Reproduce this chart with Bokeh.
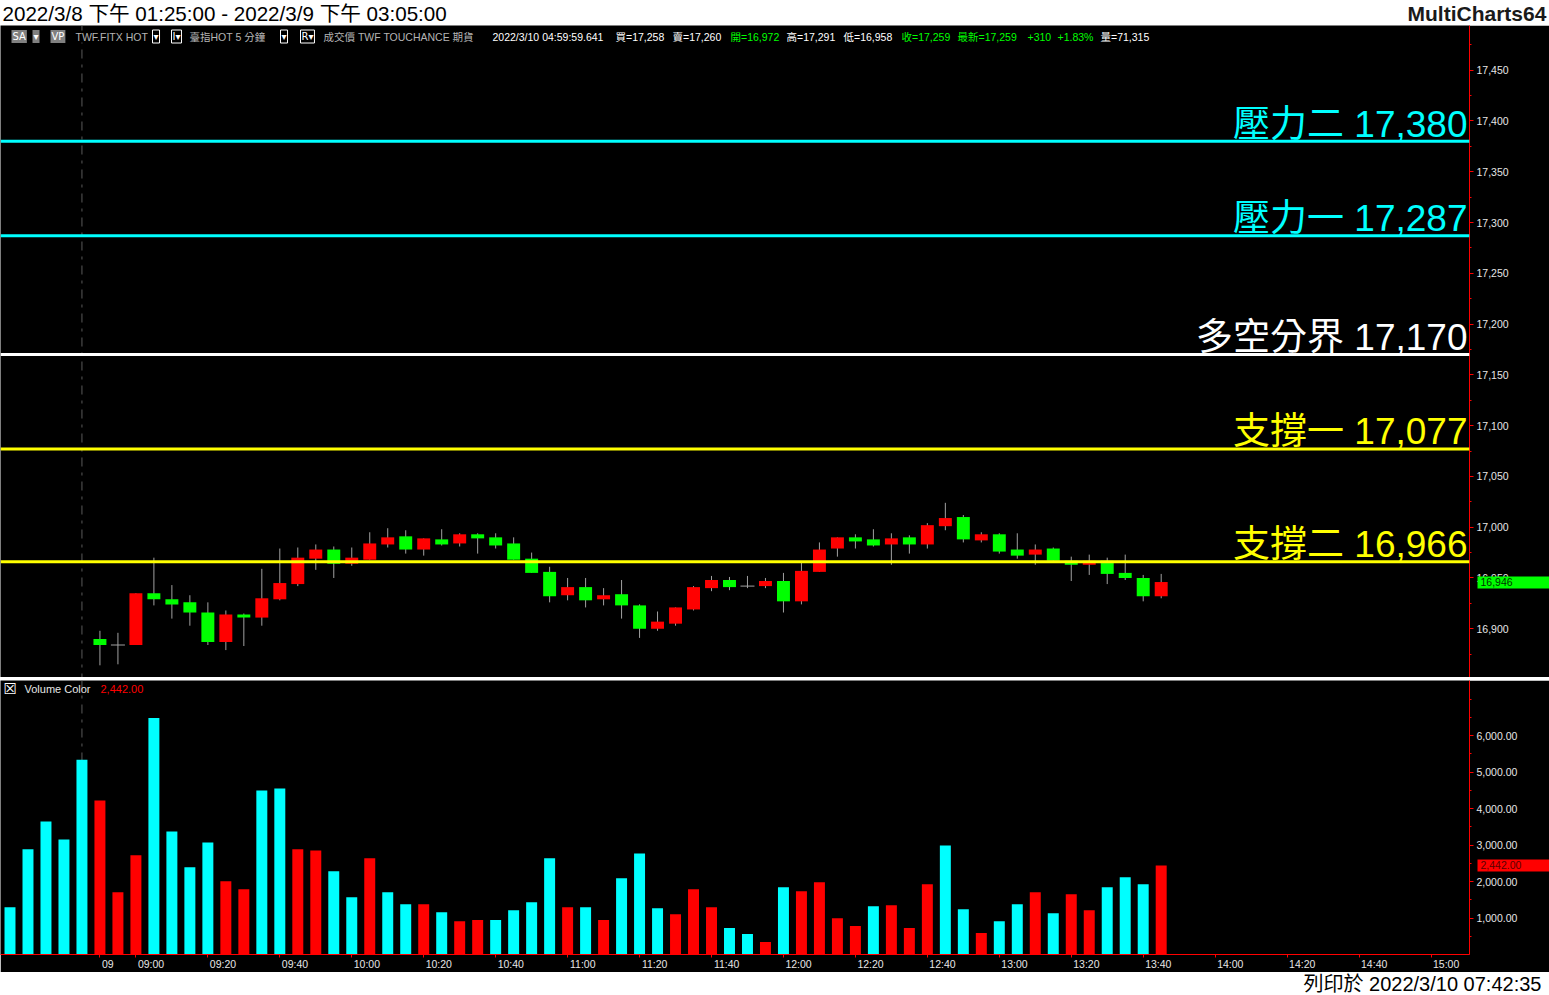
from bokeh.plotting import figure
from bokeh.layouts import column
from bokeh.models import (ColumnDataSource, Span, Label, Range1d, FixedTicker, LinearAxis,
                          SingleIntervalTicker, NumeralTickFormatter)
from bokeh.embed import file_html
from bokeh.resources import INLINE
from bokeh.core.properties import value

# ------------------------------------------------------------------ data
title_text = "2022/3/8 下午 01:25:00 - 2022/3/9 下午 03:05:00"
brand_text = "MultiCharts64"
print_text = "列印於 2022/3/10 07:42:35"

header_texts = ["TWF.FITX HOT", "臺指HOT  5 分鐘", "成交價  TWF  TOUCHANCE  期貨",
                "2022/3/10  04:59:59.641", "買=17,258", "賣=17,260", "開=16,972",
                "高=17,291", "低=16,958", "收=17,259", "最新=17,259", "+310",
                "+1.83%", "量=71,315"]
header_kinds = ["gray", "gray", "gray", "white", "white", "white", "green",
                "white", "white", "green", "green", "green", "green", "white"]

# candles (5-minute bars, bar index 5 = 08:50 of 3/9)
candle_bar = list(range(5, 65))
open_ = [16890, 16884, 16884, 16935, 16929, 16926, 16916, 16887, 16914, 16911,
         16929, 16944, 16969, 16978, 16964, 16968, 16983, 16991, 16978, 16988,
         16984, 16993, 16990, 16984, 16969, 16956, 16933, 16941, 16929, 16934,
         16923, 16900, 16905, 16919, 16940, 16948, 16942, 16942, 16947, 16927,
         16956, 16979, 16990, 16988, 16983, 16990, 16983, 17001, 17010, 16987,
         16993, 16978, 16973, 16979, 16967, 16963, 16967, 16955, 16950, 16932]
high = [16898, 16896, 16935, 16970, 16943, 16933, 16926, 16918, 16915, 16959,
        16979, 16980, 16983, 16981, 16980, 16995, 16999, 16997, 16989, 16998,
        16994, 16994, 16994, 16990, 16975, 16961, 16950, 16950, 16940, 16948,
        16924, 16917, 16921, 16942, 16952, 16951, 16952, 16950, 16955, 16966,
        16985, 16990, 16993, 16998, 16994, 16992, 17004, 17024, 17012, 16995,
        16994, 16994, 16983, 16980, 16971, 16973, 16970, 16973, 16953, 16954]
low = [16864, 16865, 16884, 16923, 16910, 16903, 16884, 16879, 16883, 16903,
       16928, 16942, 16958, 16950, 16962, 16968, 16980, 16974, 16972, 16982,
       16981, 16974, 16979, 16968, 16955, 16926, 16928, 16921, 16923, 16910,
       16891, 16898, 16903, 16918, 16937, 16938, 16940, 16940, 16916, 16924,
       16956, 16971, 16979, 16981, 16963, 16974, 16979, 16997, 16985, 16985,
       16974, 16969, 16963, 16967, 16947, 16953, 16944, 16948, 16927, 16930]
close = [16884, 16884, 16935, 16929, 16924, 16916, 16887, 16914, 16911, 16930,
         16945, 16970, 16978, 16964, 16970, 16984, 16990, 16978, 16989, 16983,
         16993, 16989, 16982, 16968, 16955, 16932, 16941, 16928, 16933, 16923,
         16900, 16907, 16921, 16941, 16948, 16941, 16942, 16947, 16927, 16957,
         16978, 16990, 16986, 16982, 16989, 16983, 17002, 17009, 16988, 16993,
         16976, 16972, 16978, 16967, 16963, 16967, 16954, 16950, 16932, 16946]

# volume (bar index 0..64; 0-4 = 13:25-13:45 of 3/8)
volume_bar = list(range(65))
volume = [1298, 2883, 3648, 3156, 5342, 4221, 1708, 2719, 6489, 3374,
          2391, 3074, 2008, 1790, 4495, 4549, 2883, 2855, 2281, 1571,
          2637, 1708, 1380, 1380, 1161, 915, 943, 943, 1216, 1434,
          2637, 1298, 1298, 943, 2090, 2773, 1270, 1107, 1790, 1298,
          724, 560, 342, 1844, 1735, 1981, 997, 779, 1325, 1352,
          724, 1926, 2992, 1243, 587, 915, 1380, 1708, 1134, 1653,
          1216, 1844, 2117, 1926, 2442]
volume_up = [0, 0, 0, 0, 0, 1, 1, 1, 0, 0,
             0, 0, 1, 1, 0, 0, 1, 1, 0, 0,
             1, 0, 0, 1, 0, 1, 1, 0, 0, 0,
             0, 1, 0, 1, 0, 0, 0, 1, 1, 1,
             0, 0, 1, 0, 1, 1, 1, 1, 0, 1,
             1, 1, 0, 0, 1, 0, 0, 1, 0, 1,
             1, 0, 0, 0, 1]

level_names = ["壓力二", "壓力一", "多空分界", "支撐一", "支撐二"]
level_values = [17380, 17287, 17170, 17077, 16966]
level_colors = ["#00ffff", "#00ffff", "#ffffff", "#ffff00", "#ffff00"]

time_tick_bars = [5, 7, 11, 15, 19, 23, 27, 31, 35, 39, 43, 47, 51, 55, 59,
                  63, 67, 71, 75, 79]
time_tick_labels = ["09", "09:00", "09:20", "09:40", "10:00", "10:20", "10:40",
                    "11:00", "11:20", "11:40", "12:00", "12:20", "12:40", "13:00",
                    "13:20", "13:40", "14:00", "14:20", "14:40", "15:00"]
session_break_bar = 4
volume_axis_ticks = [1000, 2000, 3000, 4000, 5000, 6000]

# ------------------------------------------------------------------ style
W = 1549
FW = 1470
RB = W - FW
FONT = "Liberation Sans, Noto Sans CJK TC"
AXIS_TXT = "#e6e6e6"
UP = "#ff0000"
DOWN = "#00ff00"
WICK = "#a0a0a0"
x_range = Range1d(-0.528, 81.14)
px_per_bar = FW / (x_range.end - x_range.start)
TICK_FS = 10.5
Y_TICK_OUT = 4
Y_STANDOFF = 3


def text_w(t, fs):
    # rough Arial-metric width estimate (digits .556em, punctuation .278em)
    return sum(0.556 if ch.isdigit() else 0.278 for ch in t) * fs


def strip(h, fill):
    f = figure(width=W, height=h, toolbar_location=None, output_backend="svg",
               x_axis_location=None, y_axis_location=None,
               min_border_left=0, min_border_top=0, min_border_bottom=0,
               min_border_right=RB, x_range=Range1d(0, 1), y_range=Range1d(0, 1))
    f.grid.visible = False
    f.outline_line_color = None
    f.background_fill_color = fill
    f.border_fill_color = fill
    return f


def right_text_axis(f, text, start_px, font, size, style="normal", color="#000000"):
    # side axis whose single label carries a right-hand text of the strip
    ax = LinearAxis(ticker=FixedTicker(ticks=[0.5], minor_ticks=[]),
                    axis_line_color=None, major_tick_line_color=None,
                    minor_tick_line_color=None, major_tick_out=0, major_tick_in=0,
                    major_label_standoff=start_px - FW,
                    major_label_overrides={0.5: text},
                    major_label_text_font=font, major_label_text_font_size=size,
                    major_label_text_font_style=style, major_label_text_color=color)
    f.add_layout(ax, "right")


def style_value_axis(ax):
    ax.axis_line_color = "#ff0000"
    ax.major_tick_line_color = "#ff0000"
    ax.minor_tick_line_color = "#ff0000"
    ax.major_tick_out = Y_TICK_OUT
    ax.major_tick_in = 0
    ax.minor_tick_out = 2
    ax.minor_tick_in = 0
    ax.major_label_standoff = Y_STANDOFF
    ax.major_label_text_color = AXIS_TXT
    ax.major_label_text_font = "Liberation Sans"
    ax.major_label_text_font_size = f"{TICK_FS}px"


def marker_axis(f, val, fmt, widest_label, fill, txt):
    # second side axis (outside the value axis); its tick is drawn back over the
    # value-axis area to form the last-value tag
    axis_px = FW + round(Y_TICK_OUT + Y_STANDOFF + text_w(widest_label, TICK_FS))
    ax = LinearAxis(ticker=FixedTicker(ticks=[val], minor_ticks=[]),
                    formatter=NumeralTickFormatter(format=fmt),
                    axis_line_color=None, minor_tick_line_color=None,
                    major_tick_line_color=fill, major_tick_line_width=12,
                    major_tick_out=W - axis_px, major_tick_in=axis_px - (FW + 5),
                    major_label_standoff=(FW + 8) - W,
                    major_label_text_color=txt, major_label_text_font="Liberation Sans",
                    major_label_text_font_size=f"{TICK_FS}px")
    f.add_layout(ax, "right")


# ---- top strip
top = strip(25, "white")
top.add_layout(Label(x=2, y=12, x_units="screen", y_units="screen", text=title_text,
                     text_font=FONT, text_font_size="20.6px", text_color="#000000",
                     text_baseline="middle"))
right_text_axis(top, brand_text, 1408, "Liberation Sans", "21px", "bold", "#1a1a1a")

# ---- price panel
PH = 652
price = figure(width=W, height=PH, toolbar_location=None, output_backend="svg",
               x_range=x_range, y_range=Range1d(16852, 17494),
               x_axis_location=None, y_axis_location="right",
               min_border_left=0, min_border_top=0, min_border_bottom=0,
               min_border_right=RB)
price.grid.visible = False
price.background_fill_color = "black"
price.border_fill_color = "black"
price.outline_line_color = None
ya = price.yaxis[0]
ya.ticker = SingleIntervalTicker(interval=50, num_minor_ticks=2)
ya.formatter = NumeralTickFormatter(format="0,0")
style_value_axis(ya)

price.add_layout(Span(location=session_break_bar, dimension="height",
                      line_color="#5a5a5a", line_width=1, line_dash="9 6 3 6",
                      level="underlay"))

for v, c in zip(level_values, level_colors):
    price.add_layout(Span(location=v, dimension="width", line_color=c, line_width=3))

lvl_src = ColumnDataSource(dict(
    x=[x_range.end] * len(level_values), y=level_values,
    t=[f"{n} {v:,}" for n, v in zip(level_names, level_values)], c=level_colors))
price.text(x="x", y="y", text="t", text_color="c", source=lvl_src,
           text_align="right", text_baseline="alphabetic", x_offset=-2, y_offset=-17,
           text_font=value(FONT), text_font_size="37px")

body_x, body_top, body_bot, body_col, doji_x, doji_y = [], [], [], [], [], []
for x, o, c in zip(candle_bar, open_, close):
    if c == o:
        doji_x.append(x)
        doji_y.append(c)
    else:
        body_x.append(x)
        body_top.append(max(o, c))
        body_bot.append(min(o, c))
        body_col.append(UP if c > o else DOWN)

price.segment(x0=candle_bar, y0=low, x1=candle_bar, y1=high, line_color=WICK, line_width=1)
price.vbar(x=body_x, top=body_top, bottom=body_bot, width=0.72, fill_color=body_col,
           line_color=None)
price.scatter(x=doji_x, y=doji_y, marker="dash", size=14, line_color=WICK, line_width=1)

# header line
hdr_y = PH - 11
box_specs = [("SA", 11, "#808080", None), ("▾", 32, "#808080", None), ("VP", 50, "#808080", None),
             ("▾", 152, None, "#ffffff"), ("I▾", 171, None, "#ffffff"),
             ("▾", 280, None, "#ffffff"), ("R▾", 300, None, "#ffffff")]
for t, x, bg, bd in box_specs:
    price.add_layout(Label(x=x, y=hdr_y, x_units="screen", y_units="screen", text=t,
                           text_font="DejaVu Sans", text_font_size="10px",
                           text_color="#ffffff", text_baseline="middle",
                           background_fill_color=bg, border_line_color=bd,
                           padding=1))
hdr_x = [75, 189, 323, 492, 615, 672, 730, 786, 843, 901, 957, 1027, 1057, 1100]
kind_color = {"gray": "#b4b4b4", "white": "#ffffff", "green": "#00ff00"}
for t, k, x in zip(header_texts, header_kinds, hdr_x):
    price.add_layout(Label(x=x, y=hdr_y, x_units="screen", y_units="screen", text=t,
                           text_font=FONT, text_font_size="10.5px",
                           text_color=kind_color[k], text_baseline="middle",
                           background_fill_color="black"))

marker_axis(price, close[-1], "0,0", "17,450", DOWN, "#003300")

# ---- separator
sep = strip(3, "#d8d8d8")

# ---- volume panel
VH = 275
vol = figure(width=W, height=VH + 17, toolbar_location=None, output_backend="svg",
             x_range=x_range, y_range=Range1d(0, 7514),
             x_axis_location=None, y_axis_location="right",
             min_border_left=0, min_border_top=0, min_border_bottom=17,
             min_border_right=RB)
vol.grid.visible = False
vol.background_fill_color = "black"
vol.border_fill_color = "black"
vol.outline_line_color = None
vy = vol.yaxis[0]
vy.ticker = FixedTicker(ticks=volume_axis_ticks,
                        minor_ticks=[t - 500 for t in volume_axis_ticks] + [6500, 7000])
vy.formatter = NumeralTickFormatter(format="0,0.00")
style_value_axis(vy)

# time axis: tick marks on the baseline ...
tx = LinearAxis(ticker=FixedTicker(ticks=time_tick_bars, minor_ticks=[]),
                axis_line_color="#ff0000", major_tick_line_color="#ff0000",
                minor_tick_line_color=None, major_tick_out=3, major_tick_in=0,
                major_label_standoff=0,
                major_label_overrides={t: "" for t in time_tick_bars},
                major_label_text_font_size="1px")
vol.add_layout(tx, "below")


# ... and labels that start just right of each tick
def label_shift(t):
    return round((2 + text_w(t, TICK_FS) / 2) / px_per_bar, 3)


lab_pos = [b + label_shift(t) for b, t in zip(time_tick_bars, time_tick_labels)]
lx = LinearAxis(ticker=FixedTicker(ticks=lab_pos, minor_ticks=[]),
                axis_line_color=None, major_tick_line_color=None,
                minor_tick_line_color=None, major_tick_out=0, major_tick_in=0,
                major_label_standoff=0,
                major_label_overrides={p_: t for p_, t in zip(lab_pos, time_tick_labels)},
                major_label_text_color=AXIS_TXT, major_label_text_font="Liberation Sans",
                major_label_text_font_size=f"{TICK_FS}px")
vol.add_layout(lx, "below")

vol.add_layout(Span(location=session_break_bar, dimension="height",
                    line_color="#5a5a5a", line_width=1, line_dash="9 6 3 6",
                    level="underlay"))
vol.vbar(x=volume_bar, top=volume, bottom=0, width=0.61,
         fill_color=[UP if u else "#00ffff" for u in volume_up], line_color=None)

leg_y = VH - 9
vol.add_layout(Label(x=3, y=leg_y, x_units="screen", y_units="screen", text="☒",
                     text_font="DejaVu Sans", text_font_size="15px", text_color="#ffffff",
                     text_baseline="middle"))
vol.add_layout(Label(x=24, y=leg_y, x_units="screen", y_units="screen", text="Volume Color",
                     text_font="Liberation Sans", text_font_size="11px",
                     text_color="#e6e6e6", text_baseline="middle"))
vol.add_layout(Label(x=100, y=leg_y, x_units="screen", y_units="screen",
                     text=f"{volume[-1]:,.2f}", text_font="Liberation Sans",
                     text_font_size="11px", text_color=UP, text_baseline="middle"))

marker_axis(vol, volume[-1], "0,0.00", "6,000.00", UP, "#5a0000")

# ---- bottom strip
bot = strip(23, "white")
right_text_axis(bot, print_text, 1304, FONT, "20px", "normal", "#000000")

layout = column(top, price, sep, vol, bot, spacing=0)
open("out.html", "w").write(file_html(layout, INLINE))
